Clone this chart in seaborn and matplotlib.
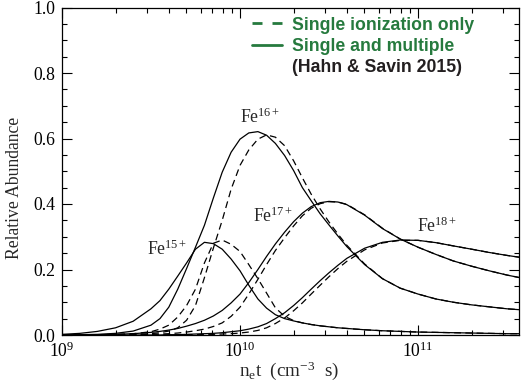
import matplotlib
matplotlib.use("Agg")
import matplotlib.pyplot as plt
import seaborn as sns
import pandas as pd
from matplotlib.lines import Line2D
from matplotlib.ticker import FixedLocator, LogLocator, MultipleLocator, NullFormatter, FixedFormatter
from matplotlib.font_manager import FontProperties

# ---------------- data ----------------
net = [1.00e9, 1.26e9, 1.58e9, 2.00e9, 2.51e9, 3.16e9, 3.55e9, 3.98e9, 4.47e9, 5.01e9,
       5.62e9, 6.31e9, 7.08e9, 7.94e9, 8.91e9, 1.00e10, 1.12e10, 1.26e10, 1.41e10, 1.58e10,
       1.78e10, 2.00e10, 2.24e10, 2.51e10, 2.82e10, 3.16e10, 3.55e10, 3.98e10, 5.01e10, 6.31e10,
       7.94e10, 1.00e11, 1.26e11, 1.58e11, 2.00e11, 2.51e11, 3.16e11, 3.98e11]

fe15_multi = [0.002, 0.005, 0.011, 0.022, 0.042, 0.08, 0.105, 0.14, 0.18, 0.22,
              0.262, 0.283, 0.279, 0.262, 0.232, 0.196, 0.152, 0.11, 0.082, 0.062,
              0.05, 0.043, 0.037, 0.032, 0.028, 0.025, 0.022, 0.02, 0.016, 0.013,
              0.011, 0.009, 0.008, 0.007, 0.006, 0.005, 0.004, 0.004]
fe15_single = [0.0, 0.0, 0.001, 0.002, 0.004, 0.01, 0.018, 0.03, 0.055, 0.09,
               0.14, 0.22, 0.28, 0.29, 0.277, 0.255, 0.215, 0.172, 0.128, 0.083,
               0.057, 0.044, 0.037, 0.032, 0.028, 0.025, 0.022, 0.02, 0.016, 0.013,
               0.011, 0.009, 0.008, 0.007, 0.006, 0.005, 0.004, 0.004]
fe16_multi = [0.0, 0.001, 0.002, 0.005, 0.012, 0.03, 0.05, 0.085, 0.14, 0.203,
              0.268, 0.335, 0.418, 0.497, 0.558, 0.598, 0.617, 0.621, 0.61, 0.585,
              0.548, 0.502, 0.45, 0.41, 0.37, 0.336, 0.302, 0.27, 0.215, 0.172,
              0.143, 0.125, 0.11, 0.10, 0.092, 0.086, 0.08, 0.076]
fe16_single = [0.0, 0.0, 0.0, 0.001, 0.002, 0.004, 0.007, 0.012, 0.022, 0.045,
               0.09, 0.175, 0.265, 0.35, 0.445, 0.518, 0.565, 0.598, 0.611, 0.604,
               0.578, 0.532, 0.48, 0.43, 0.385, 0.345, 0.308, 0.274, 0.217, 0.172,
               0.143, 0.125, 0.11, 0.10, 0.092, 0.086, 0.08, 0.076]
fe17_multi = [0.0, 0.0, 0.001, 0.002, 0.004, 0.008, 0.011, 0.015, 0.02, 0.027,
              0.035, 0.045, 0.058, 0.075, 0.098, 0.125, 0.16, 0.2, 0.24, 0.278,
              0.314, 0.346, 0.372, 0.392, 0.404, 0.408, 0.406, 0.398, 0.366, 0.325,
              0.293, 0.268, 0.246, 0.226, 0.21, 0.196, 0.183, 0.172]
fe17_single = [0.0, 0.0, 0.0, 0.0, 0.001, 0.002, 0.003, 0.004, 0.006, 0.009,
               0.013, 0.018, 0.026, 0.037, 0.057, 0.085, 0.125, 0.17, 0.215, 0.258,
               0.297, 0.333, 0.364, 0.387, 0.401, 0.407, 0.406, 0.399, 0.367, 0.326,
               0.293, 0.268, 0.246, 0.226, 0.21, 0.196, 0.183, 0.172]
fe18_multi = [0.0, 0.0, 0.0, 0.0, 0.0, 0.0, 0.0, 0.001, 0.001, 0.002,
              0.003, 0.004, 0.005, 0.007, 0.01, 0.013, 0.018, 0.025, 0.035, 0.05,
              0.068, 0.09, 0.114, 0.14, 0.166, 0.19, 0.213, 0.234, 0.265, 0.283,
              0.29, 0.289, 0.282, 0.272, 0.262, 0.252, 0.243, 0.235]
fe18_single = [0.0, 0.0, 0.0, 0.0, 0.0, 0.0, 0.0, 0.0, 0.0, 0.001,
               0.001, 0.002, 0.002, 0.003, 0.004, 0.006, 0.009, 0.014, 0.022, 0.035,
               0.052, 0.074, 0.098, 0.125, 0.152, 0.178, 0.203, 0.225, 0.26, 0.281,
               0.289, 0.289, 0.282, 0.272, 0.262, 0.252, 0.243, 0.235]

ion_labels = [r"Fe$^{\mathregular{15+}}$", r"Fe$^{\mathregular{16+}}$",
              r"Fe$^{\mathregular{17+}}$", r"Fe$^{\mathregular{18+}}$"]
legend_labels = ["Single ionization only", "Single and multiple", "(Hahn & Savin 2015)"]
yticks = [0.0, 0.2, 0.4, 0.6, 0.8, 1.0]
ytick_labels = ["0.0", "0.2", "0.4", "0.6", "0.8", "1.0"]
xticks = [1e9, 1e10, 1e11]
xtick_labels = [r"$\mathregular{10^{9}}$", r"$\mathregular{10^{10}}$", r"$\mathregular{10^{11}}$"]

# ---------------- style ----------------
sns.set_style("ticks")
plt.rcParams["font.family"] = ["Liberation Serif", "DejaVu Serif"]
plt.rcParams["mathtext.fontset"] = "custom"
plt.rcParams["mathtext.rm"] = "Liberation Serif"
plt.rcParams["mathtext.it"] = "Liberation Serif:italic"
plt.rcParams["mathtext.bf"] = "Liberation Serif:bold"

GREEN = "#267a3e"
FS = 12.7

fig = plt.figure(figsize=(5.21, 3.88), dpi=100)
ax = fig.add_axes([62 / 521, 53 / 388, 457 / 521, 327.5 / 388])

series = [
    (fe15_multi, "-"), (fe15_single, (0, (5.5, 3.5))),
    (fe16_multi, "-"), (fe16_single, (0, (5.5, 3.5))),
    (fe17_multi, "-"), (fe17_single, (0, (5.5, 3.5))),
    (fe18_multi, "-"), (fe18_single, (0, (5.5, 3.5))),
]
for vals, ls in series:
    df = pd.DataFrame({"net": net, "abund": vals})
    sns.lineplot(data=df, x="net", y="abund", ax=ax, color="black", lw=0.9,
                 linestyle=ls, estimator=None, sort=False)

ax.set_xscale("log")
ax.set_xlim(1e9, 3.69e11)
ax.set_ylim(0, 1.0)
ax.set_xlabel("")
ax.set_ylabel("")

ax.xaxis.set_major_locator(FixedLocator(xticks))
ax.xaxis.set_major_formatter(FixedFormatter(xtick_labels))
ax.xaxis.set_minor_locator(LogLocator(base=10, subs=range(2, 10), numticks=20))
ax.xaxis.set_minor_formatter(NullFormatter())
ax.yaxis.set_major_locator(FixedLocator(yticks))
ax.yaxis.set_major_formatter(FixedFormatter(ytick_labels))
ax.yaxis.set_minor_locator(MultipleLocator(0.05))

ax.tick_params(which="both", direction="in", top=True, right=True, width=0.8, colors="black")
ax.tick_params(which="major", length=7, labelsize=FS, pad=5)
ax.tick_params(which="minor", length=3.6)
for s in ax.spines.values():
    s.set_linewidth(0.9)
    s.set_color("black")

fig.text(15 / 521, 1 - 188 / 388, "Relative Abundance", rotation=90,
         ha="center", va="center", fontsize=FS)
fig.text(289 / 521, 1 - 371 / 388,
         r"n$_{\mathregular{e}}$t  (cm$^{\mathregular{-3}}$  s)",
         ha="center", va="center", fontsize=13.8)

# ion labels
ax.text(3.0e9, 0.244, ion_labels[0], fontsize=FS, va="baseline", ha="left")
ax.text(1.0e10, 0.647, ion_labels[1], fontsize=FS, va="baseline", ha="left")
ax.text(1.18e10, 0.345, ion_labels[2], fontsize=FS, va="baseline", ha="left")
ax.text(9.86e10, 0.3145, ion_labels[3], fontsize=FS, va="baseline", ha="left")

handles = [Line2D([], [], color=GREEN, lw=2, linestyle=(0, (3.6, 3.6))),
           Line2D([], [], color=GREEN, lw=2),
           Line2D([], [], color="none")]
leg = ax.legend(handles, legend_labels, loc="upper left", bbox_to_anchor=(0.416, 0.972),
                frameon=False, prop=FontProperties(family="Liberation Sans", weight="bold", size=FS),
                handlelength=1.7, handletextpad=0.55, labelspacing=0.25,
                borderpad=0, borderaxespad=0)
txts = leg.get_texts()
txts[0].set_color(GREEN)
txts[1].set_color(GREEN)
txts[2].set_color("#231f20")

fig.savefig("out.png", dpi=100)
